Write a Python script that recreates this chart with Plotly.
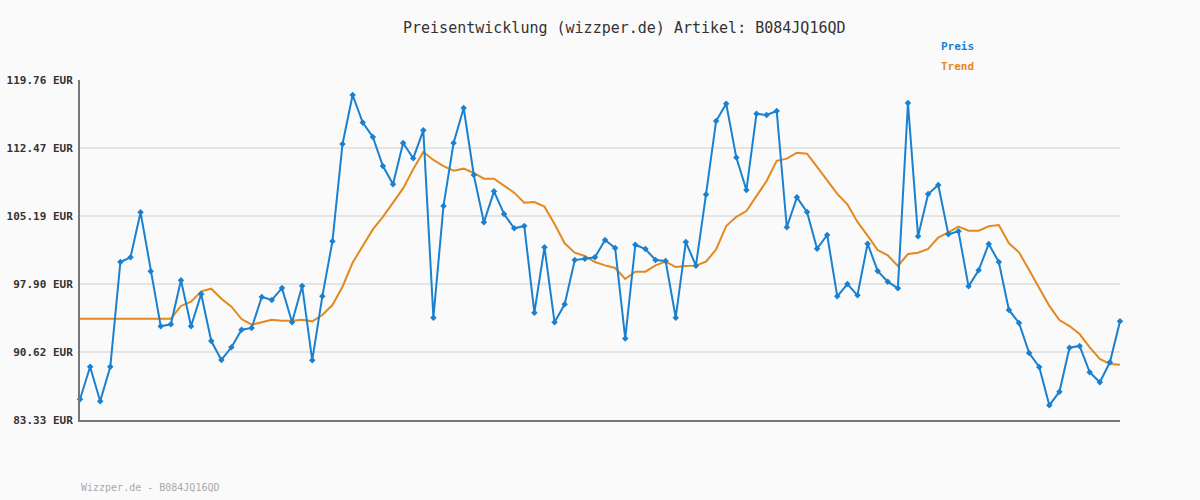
import plotly.graph_objects as go

preis = [85.55, 89.04, 85.33, 89.03, 100.26, 100.76, 105.58, 99.26, 93.37, 93.58,
         98.30, 93.37, 96.83, 91.79, 89.76, 91.12, 93.01, 93.19, 96.51, 96.19,
         97.47, 93.80, 97.69, 89.72, 96.58, 102.48, 112.90, 118.15, 115.20, 113.65,
         110.54, 108.58, 113.01, 111.37, 114.37, 94.29, 106.27, 113.01, 116.76, 109.58,
         104.51, 107.83, 105.40, 103.87, 104.12, 94.83, 101.84, 93.80, 95.73, 100.47,
         100.61, 100.76, 102.62, 101.76, 92.07, 102.11, 101.65, 100.47, 100.37, 94.29,
         102.40, 99.87, 107.50, 115.37, 117.22, 111.45, 107.97, 116.15, 116.01, 116.44,
         103.98, 107.19, 105.62, 101.69, 103.15, 96.58, 97.90, 96.69, 102.22, 99.30,
         98.15, 97.44, 117.29, 103.01, 107.55, 108.51, 103.23, 103.55, 97.65, 99.37,
         102.19, 100.26, 95.12, 93.72, 90.51, 89.01, 84.90, 86.36, 91.08, 91.26,
         88.44, 87.37, 89.51, 93.90]

trend = [94.19, 94.19, 94.19, 94.19, 94.19, 94.19, 94.19, 94.19, 94.19, 94.19,
         95.55, 96.01, 97.12, 97.40, 96.33, 95.47, 94.15, 93.54, 93.80, 94.08,
         93.97, 93.97, 94.08, 93.90, 94.58, 95.65, 97.61, 100.19, 101.97, 103.75,
         105.10, 106.60, 108.15, 110.19, 112.04, 111.19, 110.54, 110.04, 110.26, 109.80,
         109.19, 109.19, 108.47, 107.69, 106.61, 106.69, 106.19, 104.33, 102.26, 101.26,
         100.90, 100.26, 99.90, 99.62, 98.44, 99.22, 99.22, 99.90, 100.30, 99.72,
         99.83, 99.87, 100.30, 101.60, 104.12, 105.10, 105.72, 107.36, 108.94, 111.10,
         111.33, 111.97, 111.86, 110.44, 109.04, 107.55, 106.44, 104.55, 103.08, 101.54,
         100.97, 99.83, 101.11, 101.26, 101.65, 102.87, 103.44, 104.05, 103.62, 103.62,
         104.08, 104.22, 102.26, 101.30, 99.40, 97.40, 95.55, 94.04, 93.40, 92.54,
         91.12, 89.87, 89.33, 89.26]

y_ticks = [83.33, 90.62, 97.90, 105.19, 112.47, 119.76]
y_tick_labels = ["83.33 EUR", "90.62 EUR", "97.90 EUR", "105.19 EUR", "112.47 EUR", "119.76 EUR"]

title_text = "Preisentwicklung (wizzper.de) Artikel: B084JQ16QD"
footer_text = "Wizzper.de - B084JQ16QD"

x = list(range(len(preis)))

BLUE = "#1a80d0"
ORANGE = "#e3891f"
MONO = "DejaVu Sans Mono"

W, H = 1200, 500
ml, mr, mt, mb = 80, 80, 80, 80
pw, ph = W - ml - mr, H - mt - mb


def px2paper(px, py):
    return (px - ml) / pw, 1 - (py - mt) / ph


fig = go.Figure()
fig.add_trace(go.Scatter(x=x, y=trend, mode="lines", name="Trend",
                         line=dict(color=ORANGE, width=2), cliponaxis=False))
fig.add_trace(go.Scatter(x=x, y=preis, mode="lines+markers", name="Preis",
                         line=dict(color=BLUE, width=2),
                         marker=dict(symbol="diamond", size=5, color=BLUE),
                         cliponaxis=False))

ann_specs = [
    (title_text, 624, 28, "center", dict(family=MONO, size=15, color="#333333")),
    ("<b>Preis</b>", 939, 47, "left", dict(family=MONO, size=11, color=BLUE)),
    ("<b>Trend</b>", 939, 67, "left", dict(family=MONO, size=11, color=ORANGE)),
    (footer_text, 79, 487, "left", dict(family=MONO, size=10, color="#aaaaaa")),
]
annotations = []
for text, px, py, xa, font in ann_specs:
    ax, ay = px2paper(px, py)
    annotations.append(dict(text=text, x=ax, y=ay, xref="paper", yref="paper",
                            xanchor=xa, yanchor="middle", showarrow=False, font=font))

fig.update_layout(
    width=W, height=H,
    paper_bgcolor="#fafafa", plot_bgcolor="#fafafa",
    margin=dict(l=ml, r=mr, t=mt, b=mb, autoexpand=False),
    showlegend=False,
    hovermode=False,
    xaxis=dict(range=[0, len(preis) - 1], showgrid=False, zeroline=False,
               showticklabels=False, ticks="", showline=True, automargin=False,
               linecolor="#777777", linewidth=2),
    yaxis=dict(range=[y_ticks[0], y_ticks[-1]], tickvals=y_ticks, ticktext=y_tick_labels,
               showgrid=True, gridcolor="#e4e4e4", gridwidth=2, zeroline=False,
               showline=True, linecolor="#777777", linewidth=2, ticks="",
               automargin=False,
               tickfont=dict(family=MONO, size=11, color="#333333", weight="bold"),
               ticklabelstandoff=3),
    annotations=annotations,
)

fig.write_html("out.html", config={"displayModeBar": False, "staticPlot": True},
               post_script="document.body.style.margin='0';document.body.style.background='#fafafa';")
